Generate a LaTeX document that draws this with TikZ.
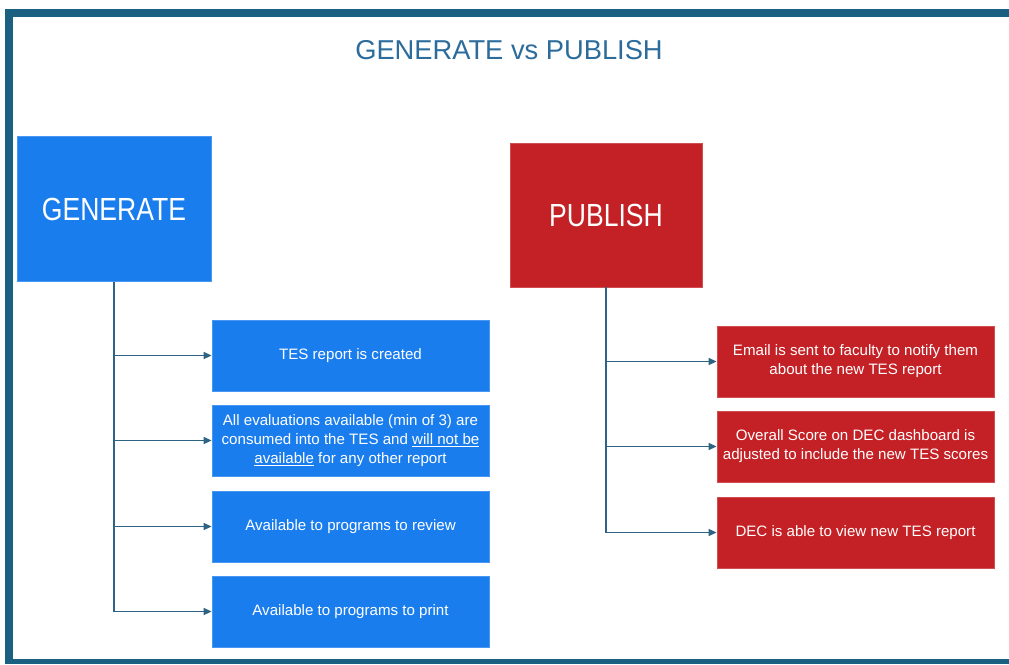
\documentclass[tikz,border=0pt]{standalone}
\usepackage{fontspec}
\setmainfont{Liberation Sans}
\usetikzlibrary{arrows.meta}
\definecolor{frameblue}{RGB}{27,95,129}
\definecolor{titleblue}{RGB}{43,108,156}
\definecolor{genblue}{RGB}{26,125,238}
\definecolor{pubred}{RGB}{196,33,38}
\definecolor{connblue}{RGB}{45,99,133}
\tikzset{
  bigbox/.style={fill=#1, draw=#1!80!white, line width=0.8pt, text=white, inner sep=0pt, minimum width=194pt, minimum height=145pt},
  smallbox/.style={fill=#1, draw=#1!80!white, line width=0.8pt, text=white, inner sep=0pt, minimum width=277pt, minimum height=71pt, align=center, font=\fontsize{15.1}{19}\selectfont},
  conn/.style={draw=connblue, line width=1.4pt},
  arr/.style={conn, -{Triangle[length=8pt,width=7pt]}},
}
\begin{document}
\begin{tikzpicture}[x=1pt,y=-1pt]
\useasboundingbox (0,0) rectangle (1009,664);
\fill[white] (0,0) rectangle (1009,664);
% frame
\fill[frameblue] (5,9) rectangle (1009,664);
\fill[white] (13,17) rectangle (1009,659);
% title
\node[text=titleblue, font=\fontsize{27.3}{32}\selectfont] (title) at (509,50) {GENERATE vs PUBLISH};
% big boxes
\node[bigbox=genblue] (gen) at (114,209) {\scalebox{0.83}[1]{\fontsize{32}{36}\selectfont GENERATE}};
\node[bigbox=pubred, minimum width=192pt, minimum height=144pt] (pub) at (606,215) {\scalebox{0.83}[1]{\fontsize{32}{36}\selectfont PUBLISH}};
% generate boxes
\node[smallbox=genblue] (g1) at (350.5,355.5) {TES report is created};
\node[smallbox=genblue] (g2) at (350.5,440.5) {All evaluations available (min of 3) are\\consumed into the TES and \underline{will not be}\\\underline{available} for any other report};
\node[smallbox=genblue] (g3) at (350.5,526.5) {Available to programs to review};
\node[smallbox=genblue] (g4) at (350.5,611.5) {Available to programs to print};
% publish boxes
\node[smallbox=pubred] (p1) at (855.5,361.5) {Email is sent to faculty to notify them\\about the new TES report};
\node[smallbox=pubred] (p2) at (855.5,446.5) {Overall Score on DEC dashboard is\\adjusted to include the new TES scores};
\node[smallbox=pubred] (p3) at (855.5,532.5) {DEC is able to view new TES report};
% connectors
\draw[conn] (gen.south) -- (gen.south |- g4.west);
\foreach \b in {g1,g2,g3,g4} \draw[arr] (gen.south |- \b.west) -- (\b.west);
\draw[conn] (pub.south) -- (pub.south |- p3.west);
\foreach \b in {p1,p2,p3} \draw[arr] (pub.south |- \b.west) -- (\b.west);
\end{tikzpicture}
\end{document}
